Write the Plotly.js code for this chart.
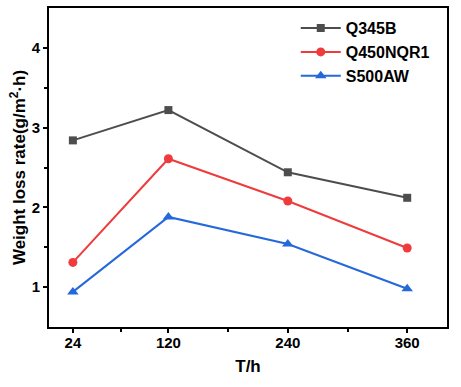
<!DOCTYPE html>
<html><head><meta charset="utf-8">
<script src="https://cdn.plot.ly/plotly-3.0.1.min.js"></script>
<style>body{margin:0;background:#fff}#c{width:461px;height:387px}</style>
</head><body><div id="c"></div>
<script>
const hours = [24, 120, 240, 360];
const q345b = [2.84, 3.22, 2.44, 2.12];
const q450nqr1 = [1.31, 2.61, 2.08, 1.49];
const s500aw = [0.94, 1.88, 1.54, 0.98];
const tickLabels = ['24', '120', '240', '360'];

const F = 'Arial, "Liberation Sans", sans-serif';
function tr(name, y, color, symbol, size) {
  return {x: hours, y: y, name: name, type: 'scatter', mode: 'lines+markers',
    line: {color: color, width: 2}, marker: {symbol: symbol, size: size, color: color}};
}
const data = [
  tr('Q345B', q345b, '#4d4d4d', 'square', 8),
  tr('Q450NQR1', q450nqr1, '#ef3b3b', 'circle', 9),
  tr('S500AW', s500aw, '#2468dc', 'triangle-up', 10)
];
const axBase = {showline: true, linecolor: '#000', linewidth: 2, mirror: true, ticks: 'outside',
  ticklen: 4, tickwidth: 1.5, tickcolor: '#000', showgrid: false, zeroline: false,
  tickfont: {family: F, size: 15, color: '#000', weight: 'bold'}};
const layout = {
  width: 461, height: 387, margin: {l: 49, r: 14, t: 8, b: 60},
  paper_bgcolor: '#fff', plot_bgcolor: '#fff', showlegend: true,
  xaxis: Object.assign({}, axBase, {range: [0, 400], tickmode: 'array', tickvals: hours, ticktext: tickLabels,
    ticklabelstandoff: -3,
    minor: {tickvals: [72, 180, 300], ticklen: 3, tickwidth: 1.5, tickcolor: '#000', ticks: 'outside'},
    title: {text: 'T/h', font: {family: F, size: 17, color: '#000', weight: 'bold'}, standoff: 10}}),
  yaxis: Object.assign({}, axBase, {range: [0.5, 4.5], tickvals: [1, 2, 3, 4],
    minor: {tickvals: [1.5, 2.5, 3.5], ticklen: 3, tickwidth: 1.5, tickcolor: '#000', ticks: 'outside'},
    title: {text: 'Weight loss rate(g/m<sup>2</sup>·h)', font: {family: F, size: 17, color: '#000', weight: 'bold'}, standoff: 2}}),
  legend: {x: 0.62, y: 0.99, xanchor: 'left', yanchor: 'top', bgcolor: 'rgba(0,0,0,0)',
    font: {family: F, size: 16, color: '#000', weight: 'bold'}, tracegroupgap: 0, itemwidth: 40}
};
Plotly.newPlot('c', data, layout, {displayModeBar: false});
</script></body></html>
